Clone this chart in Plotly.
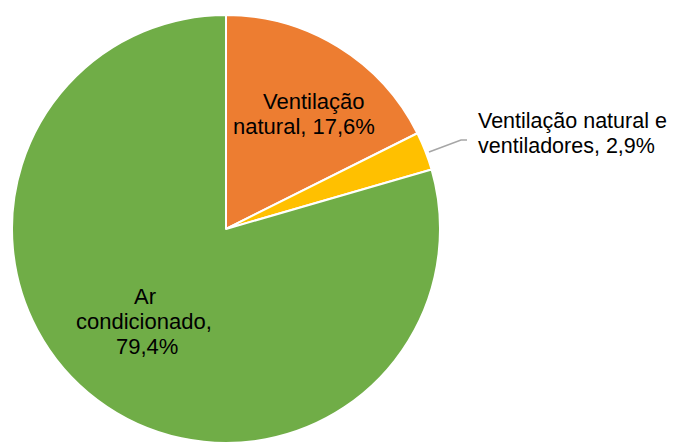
import plotly.graph_objects as go

categories = ["Ventilação natural", "Ventilação natural e ventiladores", "Ar condicionado"]
values = [17.6, 2.9, 79.4]
label_lines = [
    ["Ventilação", "natural, 17,6%"],
    ["Ventilação natural e", "ventiladores, 2,9%"],
    ["Ar", "condicionado,", "79,4%"],
]
colors = ["#ED7D31", "#FFC000", "#70AD47"]

# page body has an 8px margin; figure drawn from (8, 8)
OFF = 8
W, H = 677, 443

def px(x, y):
    return (x - OFF) / W, 1 - (y - OFF) / H

dx0, _ = px(12, 0)
dx1, _ = px(440, 0)
_, dy1 = px(0, 15)
_, dy0 = px(0, 443)

fig = go.Figure(go.Pie(
    labels=categories,
    values=values,
    sort=False,
    direction="clockwise",
    rotation=0,
    marker=dict(colors=colors, line=dict(color="white", width=2)),
    textinfo="none",
    hoverinfo="label+value",
    showlegend=False,
    domain=dict(x=[dx0, dx1], y=[dy0, dy1]),
))

fam = "Liberation Sans, Arial, sans-serif"
sizes = [22, 21.5, 22]

# (x, y, anchor) for each line of each label, in reference pixels
line_pos = [
    [(314, 101, "center"), (304, 126, "center")],
    [(476, 121, "left"), (476, 146, "left")],
    [(145, 296, "center"), (144, 321, "center"), (147, 346, "center")],
]

for lines, poss, sz in zip(label_lines, line_pos, sizes):
    for txt, (x, y, anc) in zip(lines, poss):
        ax, ay = px(x, y)
        fig.add_annotation(x=ax, y=ay, xref="paper", yref="paper", text=txt,
                           showarrow=False, xanchor=anc, yanchor="middle",
                           font=dict(family=fam, size=sz, color="#000000"))

# leader line for small slice
x0, y0 = px(429, 152)
x1, y1 = px(461, 140)
x2, y2 = px(467, 140)
fig.add_shape(type="path", xref="paper", yref="paper",
              path=f"M {x0} {y0} L {x1} {y1} L {x2} {y2}",
              line=dict(color="#A6A6A6", width=1.5))

fig.update_layout(
    width=W, height=H,
    margin=dict(l=0, r=0, t=0, b=0),
    paper_bgcolor="white",
    plot_bgcolor="white",
)

fig.write_html("out.html")
